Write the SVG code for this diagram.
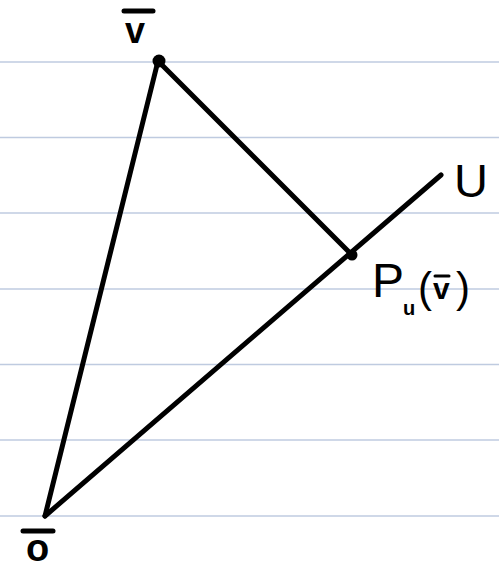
<svg xmlns="http://www.w3.org/2000/svg" width="499" height="569" viewBox="0 0 499 569">
<style>
.rule{stroke:#bfcbe0;stroke-width:1.5}
.edge{stroke:#000;stroke-width:5;stroke-linecap:round;fill:none}
.lbl{font-family:"Liberation Sans",Arial,sans-serif;fill:#000}
.bar{stroke:#000;stroke-width:5;stroke-linecap:round}
</style>
<rect width="499" height="569" fill="#fff"/>
<g id="rules">
<line class="rule" x1="0" y1="62" x2="499" y2="62"/>
<line class="rule" x1="0" y1="137.5" x2="499" y2="137.5"/>
<line class="rule" x1="0" y1="213" x2="499" y2="213"/>
<line class="rule" x1="0" y1="289" x2="499" y2="289"/>
<line class="rule" x1="0" y1="364.5" x2="499" y2="364.5"/>
<line class="rule" x1="0" y1="440" x2="499" y2="440"/>
<line class="rule" x1="0" y1="516" x2="499" y2="516"/>
</g>
<g id="connectors">
<line class="edge" x1="45" y1="516" x2="158" y2="61"/>
<line class="edge" x1="158" y1="61" x2="352" y2="255"/>
<line class="edge" x1="45" y1="516" x2="441" y2="175"/>
</g>
<g id="node-v">
<circle cx="159" cy="61" r="6.5"/>
<line class="bar" x1="124" y1="11" x2="153" y2="11"/>
<text class="lbl" x="125" y="43" font-size="36" font-weight="bold">v</text>
</g>
<g id="node-o">
<line class="bar" x1="23" y1="531" x2="53" y2="531"/>
<text class="lbl" x="26" y="561" font-size="38" font-weight="bold">o</text>
</g>
<g id="node-p">
<circle cx="352" cy="255" r="5.5"/>
<text class="lbl" x="372" y="297" font-size="48">P</text>
<text class="lbl" x="403" y="315" font-size="20" font-weight="bold">u</text>
<text class="lbl" x="418" y="302" font-size="42">(</text>
<line class="bar" x1="435" y1="276" x2="449" y2="276" style="stroke-width:3"/>
<text class="lbl" x="433" y="299" font-size="30" font-weight="bold">v</text>
<text class="lbl" x="456" y="302" font-size="42">)</text>
</g>
<g id="node-u">
<text class="lbl" x="454" y="197" font-size="47">U</text>
</g>
</svg>
